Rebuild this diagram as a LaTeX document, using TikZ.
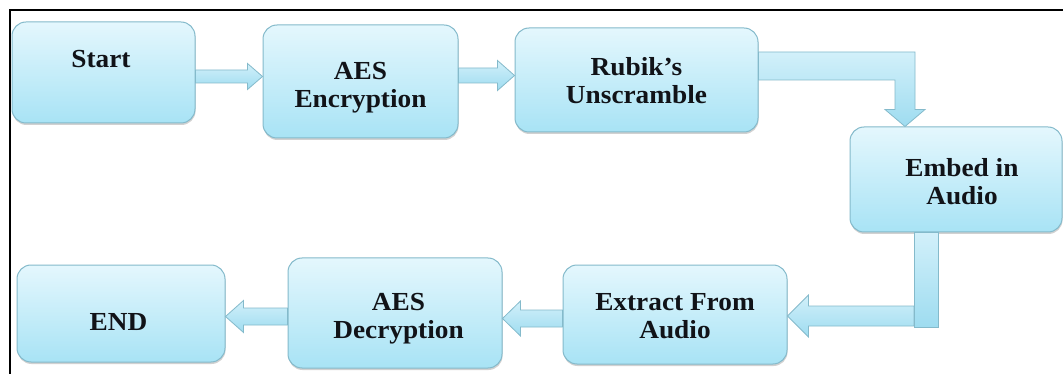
\documentclass[tikz,border=0pt]{standalone}
\usepackage{fontspec}
\setmainfont{Liberation Serif}[FakeStretch=1.05]
\usetikzlibrary{calc,shadows}
\definecolor{boxtop}{HTML}{E4F7FD}
\definecolor{boxbot}{HTML}{A8E3F5}
\definecolor{boxline}{HTML}{84BACB}
\definecolor{arrtop}{HTML}{D2F0FA}
\definecolor{arrbot}{HTML}{9EDCF0}
\definecolor{txtcol}{HTML}{111318}
\newcommand{\btxt}[3]{\raisebox{#2}[0pt][0pt]{\makebox[0pt]{\hspace*{#1}\hspace*{#1}\begin{tabular}[t]{@{}c@{}}#3\end{tabular}}}}
\newcommand{\rarrow}[6]{%
  \coordinate (s) at ($(#1.east)+(0,#3)$);
  \coordinate (t) at (#2.west |- s);
  \path[barrow] ($(s)+(0,-#4)$) -- ($(t)+(-#6,-#4)$) -- ($(t)+(-#6,-#5)$) -- (t)
    -- ($(t)+(-#6,#5)$) -- ($(t)+(-#6,#4)$) -- ($(s)+(0,#4)$) -- cycle;}
\newcommand{\larrow}[6]{%
  \coordinate (s) at ($(#1.west)+(0,#3)$);
  \coordinate (t) at (#2.east |- s);
  \path[barrow] ($(s)+(0,-#4)$) -- ($(t)+(#6,-#4)$) -- ($(t)+(#6,-#5)$) -- (t)
    -- ($(t)+(#6,#5)$) -- ($(t)+(#6,#4)$) -- ($(s)+(0,#4)$) -- cycle;}
\tikzset{
  box/.style={draw=boxline, line width=1pt, rounded corners=14pt,
    top color=boxtop, bottom color=boxbot, inner sep=0pt,
    drop shadow={shadow xshift=0.5pt, shadow yshift=-2pt, fill=black, opacity=0.18},
    font=\fontsize{26}{28}\selectfont\bfseries, text=txtcol},
  barrow/.style={draw=boxline, line width=0.8pt, top color=arrtop, bottom color=arrbot, line join=miter}
}
\begin{document}
\begin{tikzpicture}[x=1pt,y=-1pt]
\useasboundingbox (0,0) rectangle (1063,374);
\fill[white] (0,0) rectangle (1063,374);
\draw[line width=1.6pt] (10,374) -- (10,10) -- (1063,10);

\node[box, minimum width=183pt, minimum height=101pt] (start) at (103.5,72.5) {\btxt{-2.5pt}{4.5pt}{Start}};
\node[box, minimum width=195pt, minimum height=113pt] (aes) at (360.5,81.5) {\btxt{0pt}{1.5pt}{AES\\Encryption}};
\node[box, minimum width=243pt, minimum height=104pt] (rubik) at (636.5,80) {\btxt{0pt}{4pt}{Rubik’s\\Unscramble}};
\node[box, minimum width=212pt, minimum height=105pt] (embed) at (956,179.5) {\btxt{6pt}{2.5pt}{Embed in\\Audio}};
\node[box, minimum width=224pt, minimum height=99pt] (extract) at (675,314.5) {\btxt{0pt}{4.5pt}{Extract From\\Audio}};
\node[box, minimum width=214pt, minimum height=110pt] (dec) at (395,313) {\btxt{3.5pt}{3pt}{AES\\Decryption}};
\node[box, minimum width=208pt, minimum height=97pt] (end) at (121,313.5) {\btxt{-2.5pt}{-16.5pt}{END}};

% straight arrows
\rarrow{start}{aes}{4}{6.5}{13}{15}
\rarrow{aes}{rubik}{-6}{7.5}{15}{17}
\larrow{extract}{dec}{4}{8.5}{17.5}{18}
\larrow{dec}{end}{3.5}{8.5}{16}{18}

% elbow arrow Rubik -> Embed
\coordinate (s3) at ($(rubik.east)+(0,-14)$);
\coordinate (t3) at ($(embed.north)+(-51,0)$);
\path[barrow] ($(s3)+(0,-14)$) -- ($(t3|-s3)+(10,-14)$) -- ($(t3)+(10,-17)$)
  -- ($(t3)+(20,-17)$) -- (t3) -- ($(t3)+(-20,-17)$) -- ($(t3)+(-10,-17)$)
  -- ($(t3|-s3)+(-10,14)$) -- ($(s3)+(0,14)$) -- cycle;

% elbow arrow Embed -> Extract
\coordinate (v4) at ($(embed.south)+(-30,0)$);
\coordinate (t4) at ($(extract.east)+(0,1.5)$);
\path[barrow] ($(v4|-t4)+(-12,-10)$) -- ($(t4)+(21,-10)$) -- ($(t4)+(21,-21)$) -- (t4)
  -- ($(t4)+(21,21)$) -- ($(t4)+(21,10)$) -- ($(v4|-t4)+(-12,10)$) -- cycle;
\path[barrow] ($(v4)+(-12,0)$) rectangle ($(v4|-t4)+(12,11)$);
\end{tikzpicture}
\end{document}
